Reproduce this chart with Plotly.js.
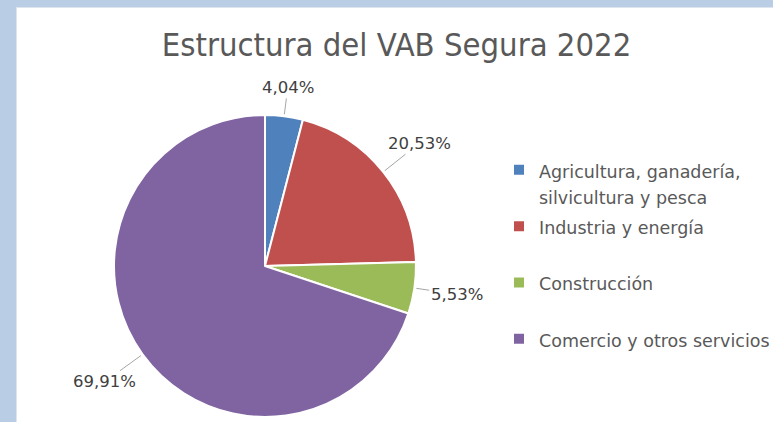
<!DOCTYPE html>
<html>
<head>
<meta charset="utf-8">
<script src="https://cdn.plot.ly/plotly-3.0.1.min.js"></script>
<style>
  html, body { margin: 0; padding: 0; background: #b9cde5; width: 773px; height: 422px; overflow: hidden; }
  #chart { position: absolute; left: 16px; top: 7px; width: 800px; height: 415px; background: #ffffff; border-left: 1px solid #dfe5ee; border-top: 1px solid #dfe5ee; }
</style>
</head>
<body>
<div id="chart"></div>
<script>
const categories = [
  "Agricultura, ganadería,<br>silvicultura y pesca",
  "Industria y energía",
  "Construcción",
  "Comercio y otros servicios"
];
const shares = [4.04, 20.53, 5.53, 69.91];
const colors = ["#4f81bd", "#c0504d", "#9bbb59", "#8064a2"];

// plot area is wider than the window so the legend never forces a margin
const W = 800, H = 414;
const cx = 248, cy = 258, R = 151;
const titleCx = 379.5;
const labelSize = 16.5, labelGap = 16;
const legendTextSize = 17.5;

function fmt(v) { return v.toFixed(2).replace(".", ",") + "%"; }

// legend names: smaller inline text, padded so every entry spans two lines
const legendNames = categories.map(c =>
  c.indexOf("<br>") >= 0
    ? c.split("<br>").map(s => `<span style="font-size:${legendTextSize}px">${s}</span>`).join("<br>")
    : `<span style="font-size:${legendTextSize}px">${c}</span><br> `
);

const data = [{
  type: "pie",
  labels: legendNames,
  values: shares,
  sort: false,
  direction: "clockwise",
  rotation: 0,
  marker: { colors: colors, line: { color: "#ffffff", width: 2 } },
  textinfo: "none",
  hoverinfo: "value",
  domain: { x: [(cx - R) / W, (cx + R) / W], y: [(H - cy - R) / H, (H - cy + R) / H] }
}];

// data labels with leader lines, placed along each slice's mid-angle
const total = shares.reduce((a, b) => a + b, 0);
let cum = 0;
const annotations = shares.map(v => {
  const mid = (cum + v / 2) / total * 2 * Math.PI;
  cum += v;
  const sx = Math.sin(mid), sy = -Math.cos(mid);
  const txt = fmt(v);
  const w = txt.length * 0.62 * labelSize, h = labelSize * 1.2;
  const half = Math.abs(sx) * w / 2 + Math.abs(sy) * h / 2;
  const d = labelGap + half;
  return {
    xref: "paper", yref: "paper",
    x: (cx + R * sx) / W, y: 1 - (cy + R * sy) / H,
    ax: d * sx, ay: d * sy,
    text: txt,
    showarrow: true, arrowhead: 0, arrowwidth: 1, arrowcolor: "#a6a6a6", standoff: 2,
    font: { family: "DejaVu Sans", size: labelSize, color: "#404040" }
  };
});

const layout = {
  width: W, height: H,
  margin: { l: 0, r: 0, t: 0, b: 0 },
  paper_bgcolor: "#ffffff",
  separators: ",.",
  title: {
    text: "Estructura del VAB Segura 2022",
    font: { family: "DejaVu Sans Condensed", size: 32.5, color: "#595959" },
    x: titleCx / W, xanchor: "center", y: 1 - 36.5 / H, yanchor: "middle"
  },
  annotations: annotations,
  showlegend: true,
  legend: {
    x: 482 / W, xanchor: "left",
    y: 1 - 142 / H, yanchor: "top",
    valign: "top",
    font: { family: "DejaVu Sans", size: 20.5, color: "#595959" },
    bgcolor: "rgba(0,0,0,0)"
  }
};

Plotly.newPlot("chart", data, layout, { displayModeBar: false, staticPlot: true });
</script>
</body>
</html>
